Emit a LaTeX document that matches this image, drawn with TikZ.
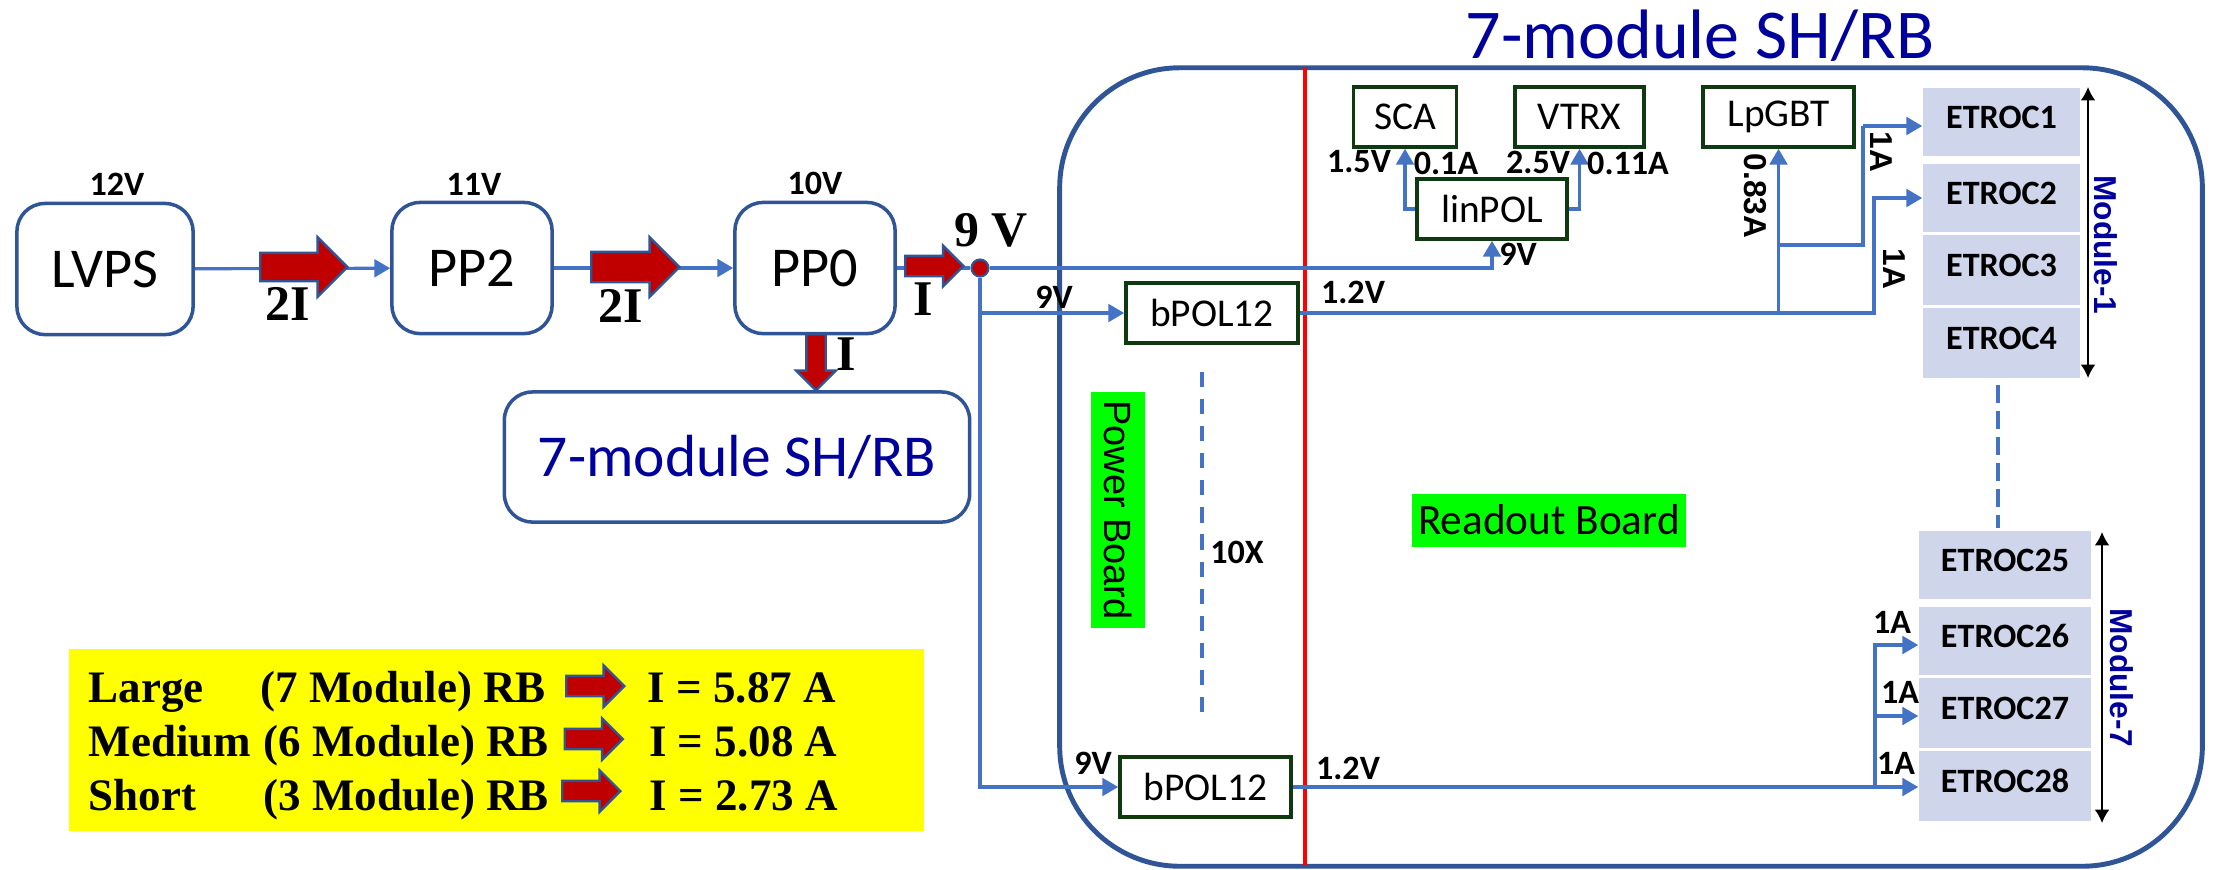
\documentclass[tikz,border=0pt]{standalone}
\usepackage{fontspec}
\setmainfont{Carlito}
\newfontfamily\timesfont{Liberation Serif}
\newfontfamily\arialfont{Liberation Sans}
\usetikzlibrary{shapes.arrows, arrows.meta}

\definecolor{boxblue}{HTML}{2F5597}
\definecolor{wireblue}{HTML}{4472C4}
\definecolor{boxgreen}{HTML}{0F3A0F}
\definecolor{chipfill}{HTML}{CFD5EA}
\definecolor{navy}{HTML}{00009C}
\definecolor{darkred}{HTML}{C00000}
\definecolor{tblyellow}{HTML}{FFFF00}

\tikzset{
  stage/.style={draw=boxblue, line width=1pt, rounded corners=0.28cm, minimum width=1.6cm, minimum height=1.31cm, font=\fontsize{16}{18}\selectfont},
  chip/.style={draw=boxgreen, line width=1pt, minimum height=0.6cm, inner sep=0pt, font=\fontsize{11.2}{13}\selectfont},
  etroc/.style={fill=chipfill, minimum width=1.57cm, minimum height=0.68cm, inner sep=0pt, text height=0.22cm, text depth=0.1cm, font=\bfseries\fontsize{9.7}{12}\selectfont},
  wire/.style={draw=wireblue, line width=0.9pt},
  feed/.style={wire, -{Triangle[length=4.5pt,width=5pt]}},
  span/.style={black, line width=0.5pt, {Latex[length=3.8pt,width=4.2pt]}-{Latex[length=3.8pt,width=4.2pt]}},
  lbl/.style={inner sep=0pt, font=\bfseries\fontsize{9.7}{12}\selectfont},
  sidelbl/.style={inner sep=0pt, rotate=-90, font=\arialfont\bfseries\fontsize{9}{11}\selectfont},
  curlbl/.style={inner sep=0pt, font=\timesfont\bfseries\fontsize{14.2}{16}\selectfont},
  rowlbl/.style={inner sep=0pt, anchor=base west, font=\timesfont\bfseries\fontsize{12.8}{15}\selectfont},
  bigarrow/.style={single arrow, draw=boxblue, fill=darkred, line width=0.7pt, inner sep=0pt, anchor=tail},
  greenbg/.style={fill=green, inner sep=0pt},
  dashline/.style={draw=wireblue, line width=0.9pt}
}

\begin{document}
\begin{tikzpicture}[x=0.01cm, y=-0.01cm]
  \useasboundingbox (0,0) rectangle (2216,869);

  % main chain
  \node[stage, minimum width=1.76cm] (lvps) at (105,269) {LVPS};
  \node[stage] (pp2) at (472,268) {PP2};
  \node[stage] (pp0) at (815,268) {PP0};
  \node[stage, minimum width=4.65cm, minimum height=1.3cm, text=navy, font=\fontsize{16.9}{20}\selectfont] (small) at (737,457) {7-module SH/RB};
  \node[lbl] (v12) at (117,184) {12V};
  \node[lbl] (v11) at (474,184) {11V};
  \node[lbl] (v10) at (815,183) {10V};

  % the SH/RB outline
  \node[draw=boxblue, line width=1.4pt, rounded corners=1.2cm, minimum width=11.42cm, minimum height=7.98cm] (rb) at (1631,467) {};
  \node[inner sep=0pt, text=navy, font=\fontsize{19.9}{23}\selectfont] (title) at (1700,36) {7-module SH/RB};
  \node[greenbg, minimum width=0.54cm, minimum height=2.35cm] (pwrbg) at (1118,510) {};
  \node[rotate=-90, inner sep=0pt, font=\arialfont\fontsize{10.8}{13}\selectfont] (pwr) at (1118,510) {Power Board};
  \node[greenbg, minimum width=2.73cm, minimum height=0.53cm, font=\fontsize{12.3}{15}\selectfont] (ro) at (1549,520) {Readout Board};
  \draw[red, line width=1pt] (1305,68) coordinate (rtop) -- (1305,866) coordinate (rbot);

  % boards
  \node[chip, minimum width=1.72cm] (bpola) at (1212,313) {bPOL12};
  \node[chip, minimum width=1.71cm] (bpolb) at (1205.5,787) {bPOL12};
  \node[chip, minimum width=1.03cm] (sca) at (1405,117) {SCA};
  \node[chip, minimum width=1.29cm] (vtrx) at (1579.5,117) {VTRX};
  \node[chip, minimum width=1.51cm] (lpgbt) at (1778.5,117) {LpGBT};
  \node[chip, minimum width=1.5cm] (linpol) at (1492,209) {linPOL};

  % readout chips
  \node[etroc] (e1) at (2001.5,122) {ETROC1};
  \node[etroc] (e2) at (2001.5,198) {ETROC2};
  \node[etroc, minimum height=0.7cm] (e3) at (2001.5,270) {ETROC3};
  \node[etroc, minimum height=0.7cm] (e4) at (2001.5,343) {ETROC4};
  \node[etroc, minimum width=1.72cm] (e25) at (2005,565) {ETROC25};
  \node[etroc, minimum width=1.72cm] (e26) at (2005,641) {ETROC26};
  \node[etroc, minimum width=1.72cm, minimum height=0.7cm] (e27) at (2005,713) {ETROC27};
  \node[etroc, minimum width=1.72cm, minimum height=0.7cm] (e28) at (2005,786) {ETROC28};

  \node[circle, draw=boxblue, fill=darkred, line width=0.6pt, minimum size=0.17cm, inner sep=0pt] (jct) at (980,268) {};

  % wires
  \draw[feed] (lvps) -- (pp2);
  \draw[feed] (pp2) -- (pp0);
  \draw[wire] (pp0) -- (jct);
  \draw[feed] (jct) -- (linpol |- jct) -- (linpol.south);
  \draw[feed] (jct) -- (jct |- bpola) -- (bpola.west);
  \draw[feed] (jct) -- (jct |- bpolb) -- (bpolb.west);
  \draw[feed] (linpol.west) -- (sca |- linpol) -- (sca.south);
  \draw[feed] (linpol.east) -- (vtrx |- linpol) -- (vtrx.south);
  \coordinate (bend1) at (1863,245);
  \coordinate (end1) at (1863,126);
  \coordinate (bend2) at (1874,313);
  \draw[feed] (bpola.east) -- (lpgbt |- bpola) -- (lpgbt.south);
  \draw[wire] (lpgbt |- bend1) -- (bend1) -- (end1);
  \draw[feed] (end1) -- (e1.west |- end1);
  \draw[feed] (bpola.east) -- (bend2) -- (bend2 |- e2) -- (e2.west);
  \coordinate (bend26) at (1875,645);
  \coordinate (bend27) at (1875,716);
  \draw[feed] (bpolb.east) -- (e28.west |- bpolb);
  \draw[feed] (bend26 |- bpolb) -- (bend26) -- (e26.west |- bend26);
  \draw[feed] (bend27) -- (e27.west |- bend27);

  % dashed runs
  \coordinate (dtop) at (1202,372);
  \coordinate (dbot) at (1202,715);
  \draw[dashline, dash pattern=on 4.3pt off 3.4pt] (dtop) -- (dbot);
  \coordinate (mtop) at (1998,385);
  \coordinate (mbot) at (1998,528);
  \draw[dashline, dash pattern=on 5pt off 2.4pt] (mtop) -- (mbot);

  % module spans
  \coordinate (m1a) at (2088,87);
  \coordinate (m1b) at (2088,378);
  \coordinate (m7a) at (2102,532);
  \coordinate (m7b) at (2102,823);
  \draw[span] (m1a) -- (m1b);
  \draw[span] (m7a) -- (m7b);
  \node[sidelbl, text=navy] (mod1) at (2106,245) {Module-1};
  \node[sidelbl, text=navy] (mod7) at (2122,678) {Module-7};

  % current arrows
  \node[bigarrow, text height=0.26cm, minimum height=0.87cm, single arrow head extend=0.155cm] (ar1) at (259,267) {};
  \node[bigarrow, text height=0.28cm, minimum height=0.88cm, single arrow head extend=0.145cm] (ar2) at (590,267) {};
  \node[bigarrow, text height=0.18cm, minimum height=0.58cm, single arrow head extend=0.1cm] (ar3) at (904,266) {};
  \node[bigarrow, rotate=-90, text height=0.17cm, minimum height=0.56cm, single arrow head extend=0.1cm] (ar4) at (816,333) {};
  \node[curlbl] (i2a) at (288,304) {2I};
  \node[curlbl] (i2b) at (621,306) {2I};
  \node[curlbl] (ia) at (923,299) {I};
  \node[curlbl] (ib) at (846,354) {I};
  \node[curlbl] (v9) at (991,230) {9 V};

  % voltage and current labels
  \node[lbl] (l15) at (1359,162) {1.5V};
  \node[lbl] (l01) at (1446,163) {0.1A};
  \node[lbl] (l25) at (1538,162) {2.5V};
  \node[lbl] (l011) at (1628,163) {0.11A};
  \node[lbl] (l9a) at (1518,254) {9V};
  \node[lbl] (l12a) at (1353,292) {1.2V};
  \node[lbl] (l9b) at (1054,297) {9V};
  \node[lbl] (l9c) at (1093,763) {9V};
  \node[lbl] (l12b) at (1348,768) {1.2V};
  \node[lbl] (l10x) at (1237,552) {10X};
  \node[lbl] (l1a26) at (1892,622) {1A};
  \node[lbl] (l1a27) at (1900,692) {1A};
  \node[lbl] (l1a28) at (1896,763) {1A};
  \node[sidelbl] (l083) at (1755,196) {0.83A};
  \node[sidelbl] (l1a1) at (1881,152) {1A};
  \node[sidelbl] (l1a2) at (1894,269) {1A};

  % yellow table
  \node[fill=tblyellow, minimum width=8.55cm, minimum height=1.82cm, inner sep=0pt] (tbl) at (496.5,740) {};
  \node[rowlbl] (t1a) at (88,702) {Large};
  \node[rowlbl] (t1b) at (260,702) {(7 Module) RB};
  \node[bigarrow, text height=0.18cm, minimum height=0.58cm, single arrow head extend=0.105cm] (t1c) at (565,686) {};
  \node[rowlbl] (t1d) at (647,702) {I = 5.87 A};
  \node[rowlbl] (t2a) at (88,756) {Medium};
  \node[rowlbl] (t2b) at (263,756) {(6 Module) RB};
  \node[bigarrow, text height=0.18cm, minimum height=0.58cm, single arrow head extend=0.105cm] (t2c) at (563.5,739) {};
  \node[rowlbl] (t2d) at (648.5,756) {I = 5.08 A};
  \node[rowlbl] (t3a) at (88,810) {Short};
  \node[rowlbl] (t3b) at (263,810) {(3 Module) RB};
  \node[bigarrow, text height=0.18cm, minimum height=0.58cm, single arrow head extend=0.105cm] (t3c) at (561,791) {};
  \node[rowlbl] (t3d) at (649,810) {I = 2.73 A};
\end{tikzpicture}
\end{document}
